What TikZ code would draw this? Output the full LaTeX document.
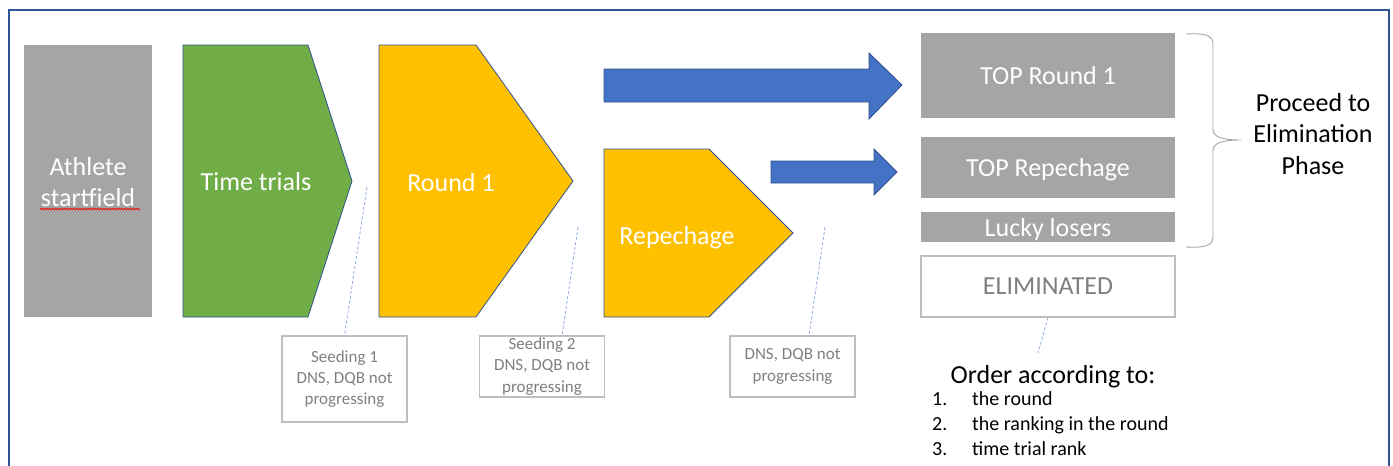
\documentclass[tikz,border=0pt]{standalone}
\usepackage{fontspec}
\setmainfont{Carlito}
\usetikzlibrary{decorations.pathmorphing,calc}
\definecolor{frameblue}{HTML}{2F5597}
\definecolor{edgeblue}{HTML}{2F528F}
\definecolor{arrowblue}{HTML}{4472C4}
\definecolor{stepgreen}{HTML}{70AD47}
\definecolor{steporange}{HTML}{FFC000}
\definecolor{boxgray}{HTML}{A5A5A5}
\definecolor{textgray}{HTML}{7F7F7F}
\definecolor{linegray}{HTML}{BFBFBF}
\definecolor{dashblue}{HTML}{8FAADC}
\tikzset{
  big/.style={font=\fontsize{26}{31.7}\selectfont, align=center, inner sep=0pt},
  small/.style={font=\fontsize{17}{21.3}\selectfont, align=center, inner sep=0pt, text=textgray},
  listtxt/.style={font=\fontsize{20}{24}\selectfont, inner sep=0pt, anchor=mid west},
  outlined/.style={draw=edgeblue, line width=0.8pt, line join=miter},
  graybox/.style={fill=boxgray, big, text=white, minimum width=254pt},
  notebox/.style={draw=linegray, line width=1.2pt, small, minimum width=125pt},
  leader/.style={draw=dashblue, dashed, dash pattern=on 3pt off 2pt, line width=0.8pt},
}
\begin{document}
\begin{tikzpicture}[x=1pt,y=-1pt]
\useasboundingbox (0,0) rectangle (1393,466);
% frame
\draw[frameblue, line width=2pt] (9,470) -- (9,10) -- (1389,10) -- (1389,470);

% Athlete startfield
\fill[boxgray] (24,45) rectangle (152,317);
\node[big, text=white] (athlete) at (88,182) {Athlete\\startfield};
\draw[red, line width=0.7pt, decorate, decoration={snake, segment length=3pt, amplitude=0.9pt}] (40,209) -- (140,209);

% Time trials
\draw[outlined, fill=stepgreen] (183,45) -- (308,45) -- (352,181) -- (308,317) -- (183,317) -- cycle;
\node[big, text=white] (tt) at (256,182) {Time trials};

% Round 1
\draw[outlined, fill=steporange] (379,45) -- (476,45) -- (573,181) -- (476,317) -- (379,317) -- cycle;
\node[big, text=white] (r1) at (451,183) {Round 1};

% Repechage
\draw[outlined, fill=steporange] (604,149) -- (709,149) -- (793,233) -- (709,317) -- (604,317) -- cycle;
\node[big, text=white, text depth=0pt] (rep) at (677,235) {Repechage};

% block arrows
\draw[outlined, fill=arrowblue] (604,69) -- (869,69) -- (869,53) -- (902,85) -- (869,119) -- (869,102) -- (604,102) -- cycle;
\draw[outlined, fill=arrowblue] (771,161) -- (874,161) -- (874,149) -- (897,172) -- (874,195) -- (874,183) -- (771,183) -- cycle;

% right boxes
\node[graybox, minimum height=85pt] (top1) at (1048,75.5) {TOP Round 1};
\node[graybox, minimum height=61pt, text depth=0pt] (toprep) at (1048,167.5) {TOP Repechage};
\node[graybox, minimum height=30pt, text depth=0pt] (lucky) at (1048,227) {Lucky losers};
\node[draw=linegray, line width=1.2pt, big, text=textgray, minimum width=254pt, minimum height=61pt] (elim) at (1048,286.5) {ELIMINATED};

% brace
\draw[boxgray, line width=0.9pt] (1186,34) .. controls (1204,33) and (1213,35) .. (1213,44) -- (1213,129)
  .. controls (1213,137) and (1222,140) .. (1241,140)
  .. controls (1222,140) and (1213,143) .. (1213,151) -- (1213,237)
  .. controls (1213,246) and (1204,248) .. (1186,247);
\node[big, text=black] (proceed) at (1313,134) {Proceed to\\Elimination\\Phase};

% note boxes
\node[notebox, minimum height=86pt] (seed1) at (344.5,379) {Seeding 1\\DNS, DQB not\\progressing};
\node[notebox, minimum height=61pt] (seed2) at (542,366.5) {Seeding 2\\DNS, DQB not\\progressing};
\node[notebox, minimum height=61pt] (seed3) at (792.5,366.5) {DNS, DQB not\\progressing};

% leader lines
\coordinate (l1) at (367,187);
\coordinate (l2) at (578,227);
\coordinate (l2b) at (562,336);
\coordinate (l3) at (825,227);
\coordinate (l3b) at (809,336);
\coordinate (l4) at (1038,353);
\draw[leader] (l1) -- (seed1.north);
\draw[leader] (l2) -- (l2b);
\draw[leader] (l3) -- (l3b);
\draw[leader] (elim.south) -- (l4);

% order list
\node[big, text=black] (order) at (1053,377) {Order according to:};
\node[listtxt] (n1) at (932,403) {1.};
\node[listtxt] (t1) at (972,403) {the round};
\node[listtxt] (n2) at (932,428) {2.};
\node[listtxt] (t2) at (972,428) {the ranking in the round};
\node[listtxt] (n3) at (932,453) {3.};
\node[listtxt] (t3) at (972,453) {time trial rank};
\end{tikzpicture}
\end{document}
